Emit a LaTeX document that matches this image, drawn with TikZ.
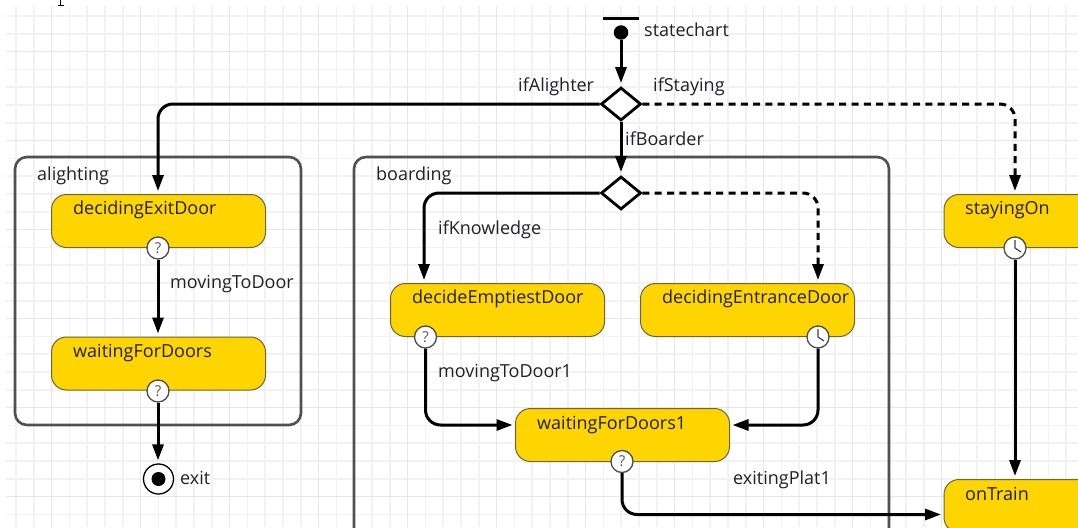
\documentclass[tikz,border=0pt]{standalone}
\usepackage{fontspec}
\setmainfont{Open Sans}
\usetikzlibrary{arrows.meta,shapes.geometric}
\definecolor{gridminor}{HTML}{F2F2F2}
\definecolor{gridmajor}{HTML}{E6E6E6}
\definecolor{statefill}{HTML}{FFD500}
\definecolor{stateline}{HTML}{6B6545}
\definecolor{regionline}{HTML}{505050}
\definecolor{labelcol}{HTML}{20202C}
\tikzset{x=1pt,y=-1pt,
 stateN/.style={draw=stateline,line width=1pt,fill=statefill,rounded corners=15pt,minimum width=214pt,minimum height=53pt,inner sep=0pt},
 regionN/.style={draw=regionline,line width=2.6pt,rounded corners=12pt,inner sep=0pt},
 txt/.style={font=\fontsize{18}{20}\selectfont,text=labelcol,inner sep=0pt,anchor=base west},
 badge/.style={circle,draw=black!70,line width=1.3pt,fill=white,minimum size=22pt,inner sep=0pt,font=\fontsize{15}{15}\selectfont,text=black!65},
 clockN/.style={circle,draw=black!70,line width=1.3pt,fill=white,minimum size=22pt,inner sep=0pt},
 tr/.style={line width=3pt,rounded corners=15pt,-{Triangle[length=16pt,width=11pt]},shorten >=3pt},
 trd/.style={tr,dash pattern=on 7pt off 5.3pt},
 bran/.style={diamond,draw=black,line width=2.8pt,fill=white,minimum width=40pt,minimum height=33pt,inner sep=0pt,aspect=1.25},
}
\begin{document}
\begin{tikzpicture}
\useasboundingbox (0,0) rectangle (1078,527);
\fill[white] (0,0) rectangle (1078,527);
\foreach \i in {0,...,60} {\draw[gridminor,line width=1.5pt] ({16+17.8*\i},6) -- ({16+17.8*\i},527);}
\foreach \j in {0,...,29} {\draw[gridminor,line width=1.5pt] (6,{16+17.8*\j}) -- (1078,{16+17.8*\j});}
\foreach \i in {0,...,11} {\draw[gridmajor,line width=1.5pt] ({51.7+89*\i},6) -- ({51.7+89*\i},527);}
\foreach \j in {0,...,5} {\draw[gridmajor,line width=1.5pt] (6,{51.7+89*\j}) -- (1078,{51.7+89*\j});}
% clipped descender of the cut-off line above the chart
\draw[black,line width=1.2pt] (60.5,0) -- (60.5,5) (57.5,5.2) -- (63.5,5.2);
% regions
\node[regionN,minimum width=286pt,minimum height=268pt] (alight) at (158,291) {};
\draw[regionline,line width=2.6pt,rounded corners=12pt] (354,545) -- (354,157) -- (889,157) -- (889,545);
% states
\node[stateN] (dexit) at (158.5,221) {};
\node[stateN] (wait) at (158.5,363.5) {};
\node[stateN] (demp) at (497.5,310) {};
\node[stateN] (dent) at (747.5,310) {};
\node[stateN] (wait1) at (622.5,435) {};
\node[stateN] (stay) at (1051,221) {};
\node[stateN] (train) at (1051,506) {};
% badges
\node[badge] (b1) at (158,248) {?};
\node[badge] (b2) at (158,391) {?};
\node[badge] (b3) at (425.5,337) {?};
\node[badge] (b4) at (622,461.5) {?};
\node[clockN] (c1) at (818,337) {};
\node[clockN] (c2) at (1015,248) {};
\foreach \c in {c1,c2} {\draw[black!75,line width=1.2pt] (\c.center) -- ++(0,-8) (\c.center) -- ++(6,4);}
% pseudo
\node[fill=black,circle,minimum size=14.5pt,inner sep=0pt] (init) at (621,32.5) {};
\coordinate (barL) at (603,18.3); \coordinate (barR) at (639,18.3);
\draw[black,line width=2.8pt] (barL) -- (barR);
\node[bran] (d1) at (621,104) {};
\node[bran] (d2) at (621,193) {};
\node[circle,draw=black,line width=1.3pt,fill=white,minimum size=30pt,inner sep=0pt] (ex) at (158.5,479) {};
\node[circle,fill=black,minimum size=14pt,inner sep=0pt] at (ex.center) {};
% transitions
\draw[tr] (init.south) -- (d1.north);
\draw[tr] (d1.west) -- (158,104) -- (158,194);
\draw[trd] (d1.east) -- (1015,104) -- (1015,194);
\draw[tr] (d1.south) -- (d2.north);
\draw[tr] (d2.west) -- (424,193) -- (424,283);
\draw[trd] (d2.east) -- (818,193) -- (818,283);
\draw[tr] (b1.south) -- (b1.south |- wait.north);
\draw[tr] (b2.south) -- (b2.south |- ex.north);
\draw[tr] (b3.south) -- (425.5,425) -- (515.5,425);
\draw[tr] (c1.south) -- (818,425) -- (729.5,425);
\draw[tr] (b4.south) -- (622,514.5) -- (944,514.5);
\draw[tr] (c2.south) -- (c2.south |- train.north);
% labels
\node[txt] (t1) at (644,37) {statechart};
\node[txt] (t2) at (518,91) {ifAlighter};
\node[txt] (t3) at (653,91) {ifStaying};
\node[txt] (t4) at (625,145) {ifBoarder};
\node[txt] (t5) at (37,180) {alighting};
\node[txt] (t6) at (376,180) {boarding};
\node[txt] (t7) at (73,214) {decidingExitDoor};
\node[txt] (t8) at (170,288) {movingToDoor};
\node[txt] (t9) at (73,357) {waitingForDoors};
\node[txt] (t10) at (180,484) {exit};
\node[txt] (t11) at (438,234) {ifKnowledge};
\node[txt] (t12) at (412,303) {decideEmptiestDoor};
\node[txt] (t13) at (662,303) {decidingEntranceDoor};
\node[txt] (t14) at (438,377) {movingToDoor1};
\node[txt] (t15) at (537,429) {waitingForDoors1};
\node[txt] (t16) at (733,484) {exitingPlat1};
\node[txt] (t17) at (965,214) {stayingOn};
\node[txt] (t18) at (965,500) {onTrain};
\end{tikzpicture}
\end{document}
